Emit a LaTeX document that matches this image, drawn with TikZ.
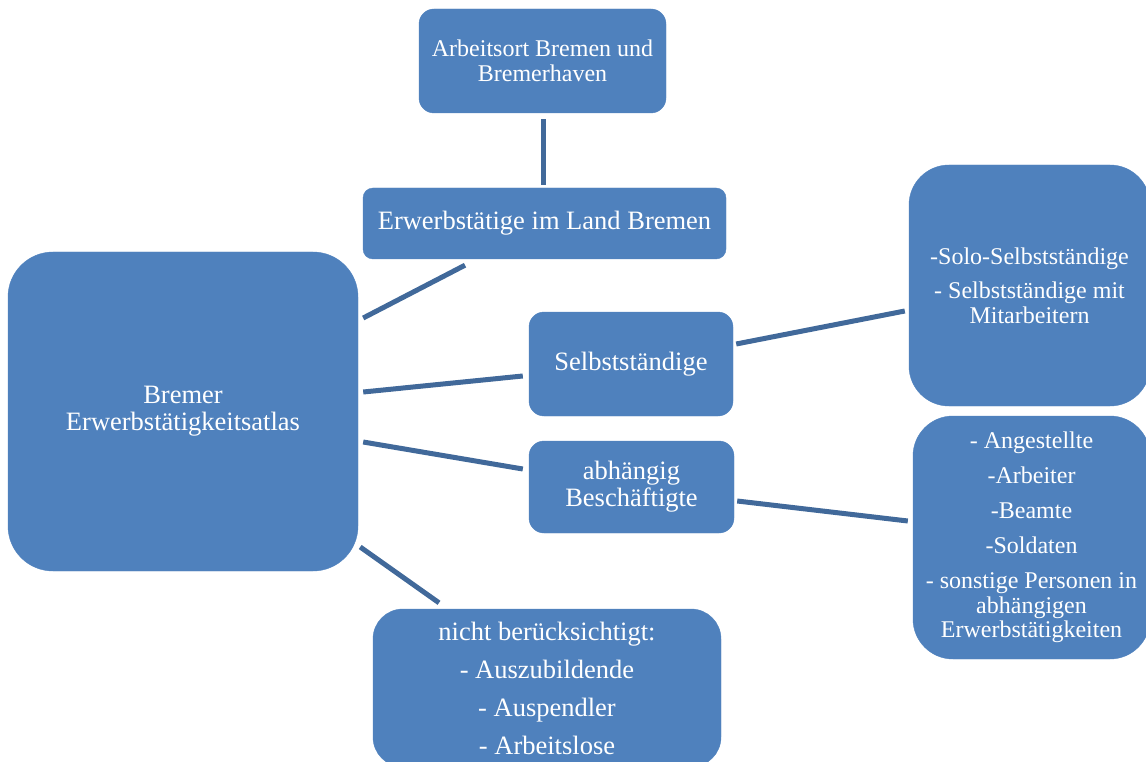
\documentclass[tikz,border=0pt]{standalone}
\usepackage{fontspec}
\setmainfont{Liberation Serif}
\definecolor{boxblue}{HTML}{4F81BD}
\definecolor{lineblue}{HTML}{41699A}
\begin{document}
\begin{tikzpicture}[x=1pt,y=-1pt,
  box/.style={rounded corners=#1, fill=boxblue, draw=boxblue, text=white, inner sep=0pt, align=center},
  big/.style={font=\fontsize{26.5}{27}\selectfont},
  small/.style={font=\fontsize{24}{24.5}\selectfont},
  conn/.style={draw=lineblue, line width=5pt}]
\useasboundingbox (0,0) rectangle (1146,762);
\node[box=15, small, minimum width=247, minimum height=104] (arb) at (542.5,61) {Arbeitsort Bremen und\\Bremerhaven};
\node[box=10, big, minimum width=363, minimum height=71] (erw) at (544.5,223.5) {Erwerbstätige im Land Bremen};
\node[box=45, big, minimum width=350, minimum height=319] (main) at (183,411.5) {Bremer\\Erwerbstätigkeitsatlas};
\node[box=15, big, minimum width=204, minimum height=104] (selb) at (631,364) {Selbstständige};
\node[box=15, big, minimum width=205, minimum height=92] (abh) at (631.5,487) {abhängig\\Beschäftigte};
\node[box=40, small, minimum width=241, minimum height=241] (solo) at (1029.5,285.5) {-Solo-Selbstständige\\[10pt]- Selbstständige mit\\Mitarbeitern};
\node[box=40, small, minimum width=237, minimum height=243] (list) at (1031.5,537.5) {- Angestellte\\[10.5pt]-Arbeiter\\[10.5pt]-Beamte\\[10.5pt]-Soldaten\\[10.5pt]- sonstige Personen in\\abhängigen\\Erwerbstätigkeiten};
\node[box=30, big, minimum width=348, minimum height=158] (nicht) at (547,688) {nicht berücksichtigt:\\[11pt]- Auszubildende\\[11pt]- Auspendler\\[11pt]- Arbeitslose};
\draw[conn] ([shift={(0.5,6)}]arb.south) -- ([shift={(-1.5,-3)}]erw.north);
\draw[conn] ([shift={(-79.5,6)}]erw.south) -- ([shift={(5,-93.5)}]main.east);
\draw[conn] ([shift={(5,-19.5)}]main.east) -- ([shift={(-6,12)}]selb.west);
\draw[conn] ([shift={(5,30.5)}]main.east) -- ([shift={(-6,-18)}]abh.west);
\draw[conn] ([shift={(2,135.5)}]main.east) -- ([shift={(-108,-6)}]nicht.north);
\draw[conn] ([shift={(3,-20)}]selb.east) -- ([shift={(-4,25.5)}]solo.west);
\draw[conn] ([shift={(3,14)}]abh.east) -- ([shift={(-5,-16.5)}]list.west);
\end{tikzpicture}
\end{document}
